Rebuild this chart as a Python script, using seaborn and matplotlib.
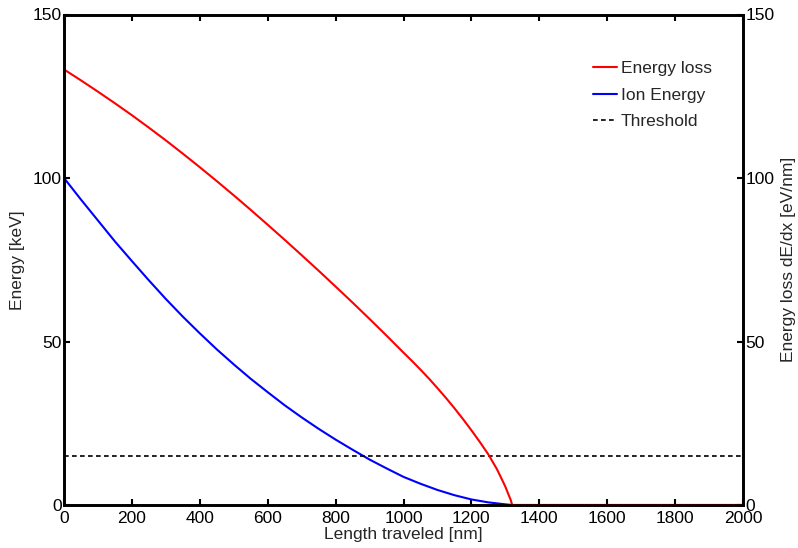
import matplotlib
matplotlib.use("Agg")
import matplotlib.pyplot as plt
import seaborn as sns
import pandas as pd
from matplotlib.lines import Line2D

# Data
loss_x = [0, 50, 100, 150, 200, 250, 300, 350, 400, 450, 500, 550, 600, 650, 700,
          750, 800, 850, 900, 950, 1000, 1025, 1050, 1075, 1100, 1125, 1150, 1175,
          1200, 1225, 1250, 1275, 1290, 1300, 1310, 1316, 1320,
          1400, 1600, 1800, 2000]
loss_y = [133.2, 129.85, 126.4, 122.85, 119.2, 115.4, 111.5, 107.45, 103.3, 99.05,
          94.7, 90.25, 85.7, 81.1, 76.4, 71.65, 66.8, 61.9, 56.9, 51.8, 46.6, 44.05,
          41.4, 38.65, 35.75, 32.75, 29.6, 26.3, 22.85, 19.25, 15.45, 11.0, 7.8,
          5.6, 3.0, 1.5, 0,
          0, 0, 0, 0]

ion_x = [0, 50, 100, 150, 200, 250, 300, 350, 400, 450, 500, 550, 600, 650, 700,
         750, 800, 850, 900, 950, 1000, 1050, 1100, 1150, 1200, 1250, 1300, 1320,
         1400, 1600, 1800, 2000]
ion_y = [100, 93.4, 87, 80.6, 74.6, 68.7, 63, 57.6, 52.5, 47.6, 43, 38.6, 34.5,
         30.5, 26.8, 23.3, 20, 16.9, 13.9, 11.2, 8.6, 6.5, 4.6, 3.0, 1.7, 0.8, 0.2, 0,
         0, 0, 0, 0]

threshold = 15
x_ticks = list(range(0, 2001, 200))
y_ticks = [0, 50, 100, 150]

sns.set_style("ticks")
plt.rcParams['font.family'] = ['Liberation Sans', 'DejaVu Sans']
FS = 12.5

fig = plt.figure(figsize=(7.98, 5.48), dpi=100)
ax = fig.add_axes([64/798, 1-505/548, 679/798, 490.5/548])
ax2 = ax.twinx()

df_loss = pd.DataFrame({"x": loss_x, "y": loss_y})
df_ion = pd.DataFrame({"x": ion_x, "y": ion_y})

sns.lineplot(data=df_ion, x="x", y="y", ax=ax, color="#0000ff", lw=1.5, sort=False)
sns.lineplot(data=df_loss, x="x", y="y", ax=ax2, color="#ff0000", lw=1.5, sort=False)
ax.axhline(threshold, color="black", lw=1.2, dashes=(2.8, 2.0))

for a in (ax, ax2):
    a.set_xlim(0, 2000)
    a.set_ylim(0, 150)
    a.set_yticks(y_ticks)
    for s in a.spines.values():
        s.set_linewidth(1.9)
        s.set_visible(True)
        s.set_color("black")

ax.set_xticks(x_ticks)
ax.tick_params(axis="both", direction="in", length=4.5, width=1.5, labelsize=FS,
               colors="black", top=True)
ax.tick_params(axis="x", pad=4)
ax.tick_params(axis="y", pad=1.5)
ax2.tick_params(axis="y", direction="in", length=4.5, width=1.5, labelsize=FS, pad=2,
                colors="black")

ax.set_xlabel("Length traveled [nm]", fontsize=FS)
ax.set_ylabel("Energy [keV]", fontsize=FS)
ax2.set_ylabel("Energy loss dE/dx [eV/nm]", fontsize=FS)
ax.xaxis.set_label_coords(0.5, -0.045)
ax.yaxis.set_label_coords(-0.058, 0.5)
ax2.yaxis.set_label_coords(1.056, 0.5)
ax2.set_xlabel("")

handles = [Line2D([], [], color="#ff0000", lw=1.5),
           Line2D([], [], color="#0000ff", lw=1.5),
           Line2D([], [], color="black", lw=1.2, dashes=(2.8, 2.0))]
labels = ["Energy loss", "Ion Energy", "Threshold"]
ax2.legend(handles, labels, loc="upper left", bbox_to_anchor=(0.779, 0.905),
           frameon=False, fontsize=FS, handlelength=1.4, handletextpad=0.2,
           labelspacing=0.66, borderpad=0, borderaxespad=0)

fig.savefig("out.png", dpi=100)
